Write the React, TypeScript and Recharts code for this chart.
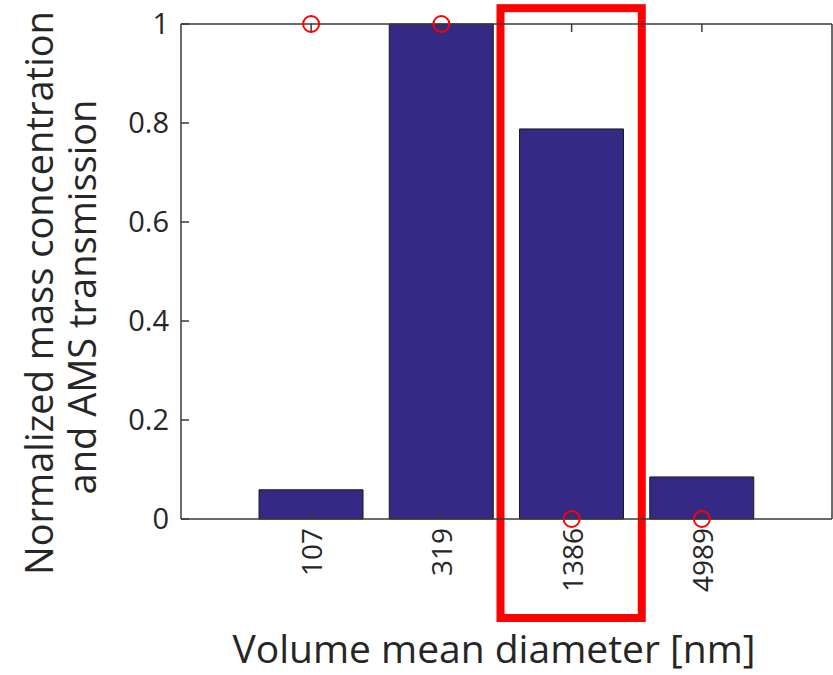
import React from 'react';
import { ComposedChart, Bar, Line, XAxis, YAxis, ReferenceArea } from 'recharts';

const categories = ['107', '319', '1386', '4989'];
const massConcentration = [0.059, 1.0, 0.788, 0.085];
const amsTransmission = [1, 1, 0, 0];
const yTicks = [0, 0.2, 0.4, 0.6, 0.8, 1];
const highlightCategory = '1386';
const highlightRange = [-0.2, 1.032];

const data = categories.map((name, i) => ({
  name,
  mass: massConcentration[i],
  ams: amsTransmission[i],
}));

const FONT = '"Open Sans", "Noto Sans", sans-serif';
const AXIS = '#3a3a3a';
const TEXT = '#262626';

const XTick = (props: any) => {
  const { x, y, payload } = props;
  return (
    <text
      x={x}
      y={y}
      transform={`rotate(-90, ${x}, ${y})`}
      textAnchor="end"
      dominantBaseline="central"
      fontFamily={FONT}
      fontSize={28}
      fill={TEXT}
    >
      {payload.value}
    </text>
  );
};

const HighlightShape = (props: any) => {
  const { x, y, width, height } = props;
  return (
    <rect
      x={x - 6}
      y={y}
      width={width + 11}
      height={height}
      fill="none"
      stroke="#ff0000"
      strokeWidth={8}
    />
  );
};

export default function App() {
  return (
    <div style={{ position: 'absolute', left: 0, top: 0, width: 833, height: 675, background: '#fff' }}>
      <ComposedChart
        width={833}
        height={675}
        data={data}
        margin={{ top: 23, right: 0, bottom: 0, left: 0 }}
        barCategoryGap="10%"
      >
        <XAxis
          dataKey="name"
          type="category"
          height={156}
          padding={{ left: 65, right: 65 }}
          tickSize={-8}
          tickMargin={17}
          tick={<XTick />}
          stroke={AXIS}
          strokeWidth={1.5}
          interval={0}
        />
        <XAxis
          xAxisId="top"
          dataKey="name"
          type="category"
          orientation="top"
          height={1}
          padding={{ left: 65, right: 65 }}
          tickSize={-8}
          tickFormatter={() => ''}
          stroke={AXIS}
          strokeWidth={1.5}
          interval={0}
        />
        <YAxis
          type="number"
          domain={[0, 1]}
          ticks={yTicks}
          width={181}
          tickSize={-8}
          tickMargin={20}
          tick={{ fontFamily: FONT, fontSize: 29, fill: TEXT }}
          stroke={AXIS}
          strokeWidth={1.5}
        />
        <YAxis
          yAxisId="right"
          orientation="right"
          type="number"
          domain={[0, 1]}
          ticks={yTicks}
          width={1}
          tickSize={-8}
          tickFormatter={() => ''}
          stroke={AXIS}
          strokeWidth={1.5}
        />
        <Bar
          dataKey="mass"
          fill="#342a86"
          stroke="#1a1a1a"
          strokeWidth={1}
          isAnimationActive={false}
        />
        <Line
          dataKey="ams"
          stroke="none"
          dot={{ r: 8, stroke: '#ff0000', strokeWidth: 2, fill: 'none' }}
          activeDot={false}
          isAnimationActive={false}
        />
        <ReferenceArea
          x1={highlightCategory}
          x2={highlightCategory}
          y1={highlightRange[0]}
          y2={highlightRange[1]}
          ifOverflow="visible"
          shape={<HighlightShape />}
        />
      </ComposedChart>
      <svg
        width={833}
        height={675}
        style={{ position: 'absolute', left: 0, top: 0, pointerEvents: 'none' }}
      >
        <text
          transform="translate(53, 293) rotate(-90)"
          textAnchor="middle"
          fontFamily={FONT}
          fontSize={38}
          fill={TEXT}
        >
          Normalized mass concentration
        </text>
        <text
          transform="translate(96, 297) rotate(-90)"
          textAnchor="middle"
          fontFamily={FONT}
          fontSize={38}
          fill={TEXT}
        >
          and AMS transmission
        </text>
        <text
          x={494}
          y={663}
          textAnchor="middle"
          fontFamily={FONT}
          fontSize={39}
          fill={TEXT}
        >
          Volume mean diameter [nm]
        </text>
      </svg>
    </div>
  );
}
